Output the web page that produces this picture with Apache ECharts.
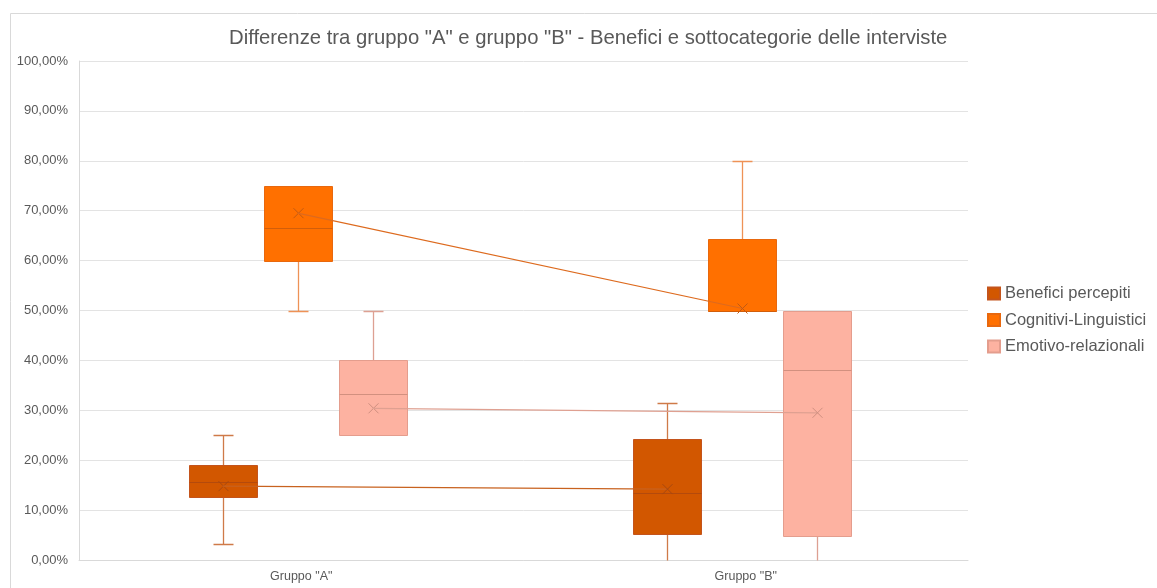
<!DOCTYPE html>
<html><head><meta charset="utf-8">
<script src="https://cdn.jsdelivr.net/npm/echarts@6/dist/echarts.min.js"></script>
<style>html,body{margin:0;padding:0;background:#fff}#c{width:1157px;height:588px}</style>
</head><body><div id="c"></div>
<script>
const titleText = 'Differenze tra gruppo "A" e gruppo "B" - Benefici e sottocategorie delle interviste';
const categories = ['Gruppo "A"', 'Gruppo "B"'];
const seriesNames = ['Benefici percepiti', 'Cognitivi-Linguistici', 'Emotivo-relazionali'];
// [min, Q1, median, Q3, max] per group
const beneficiBox = [[0.032, 0.126, 0.157, 0.19, 0.25], [0, 0.052, 0.134, 0.242, 0.314]];
const beneficiMean = [0.148, 0.142];
const cognitiviBox = [[0.50, 0.60, 0.665, 0.75, 0.75], [0.50, 0.50, 0.50, 0.643, 0.80]];
const cognitiviMean = [0.695, 0.504];
const emotivoBox = [[0.25, 0.25, 0.332, 0.40, 0.50], [0, 0.049, 0.381, 0.50, 0.50]];
const emotivoMean = [0.304, 0.295];
const yTickValues = [0, 0.1, 0.2, 0.3, 0.4, 0.5, 0.6, 0.7, 0.8, 0.9, 1.0];

const styles = [
  {fill: '#D25700', border: '#C4541C', whisker: '#CF7A48', median: '#B44A0C', mean: '#A8480F', line: '#C8621F'},
  {fill: '#FF7000', border: '#E8680E', whisker: '#EE9256', median: '#D25E0A', mean: '#C25A12', line: '#DD6A1E'},
  {fill: '#FDB2A1', border: '#E49D8D', whisker: '#DDA092', median: '#D2907F', mean: '#CF8F80', line: '#DFA091'}
];
const boxSets = [beneficiBox, cognitiviBox, emotivoBox];
const meanSets = [beneficiMean, cognitiviMean, emotivoMean];
const offsets = [-0.177, -0.008, 0.161];
const BOXW = 0.153, CAPW = 0.045;

function crisp(v) { return Math.round(v) + 0.5; }

function makeRender(k) {
  const boxes = boxSets[k], means = meanSets[k], st = styles[k], offF = offsets[k];
  return function (params, api) {
    const i = params.dataIndex;
    const band = api.size([1, 0])[0];
    const cxOf = j => api.coord([j, 0])[0] + offF * band;
    const Y = (j, v) => api.coord([j, v])[1];
    const cx = crisp(cxOf(i));
    const bw = BOXW * band, cw = CAPW * band;
    const b = boxes[i];
    const yMin = crisp(Y(i, b[0])), yQ1 = crisp(Y(i, b[1])), yMed = crisp(Y(i, b[2])),
          yQ3 = crisp(Y(i, b[3])), yMax = crisp(Y(i, b[4]));
    const base = Y(i, 0);
    const children = [];
    const L = (x1, y1, x2, y2, c, w) => ({type: 'line', shape: {x1, y1, x2, y2}, style: {stroke: c, lineWidth: w || 1}});
    if (yMax < yQ3) {
      children.push(L(cx, yMax, cx, yQ3, st.whisker, 1.3));
      children.push(L(cx - cw / 2, yMax, cx + cw / 2, yMax, st.whisker, 1.5));
    }
    if (yMin > yQ1) {
      children.push(L(cx, yQ1, cx, yMin, st.whisker, 1.3));
      if (Math.abs(Y(i, b[0]) - base) > 1) children.push(L(cx - cw / 2, yMin, cx + cw / 2, yMin, st.whisker, 1.5));
    }
    const x0 = Math.round(cx - bw / 2) + 0.5;
    children.push({type: 'rect', shape: {x: x0, y: yQ3, width: Math.round(bw), height: yQ1 - yQ3},
      style: {fill: st.fill, stroke: st.border, lineWidth: 1}});
    children.push(L(x0, yMed, x0 + Math.round(bw), yMed, st.median, 1));
    const ym = Y(i, means[i]);
    if (i > 0) {
      const px = cxOf(i - 1), py = Y(i - 1, means[i - 1]);
      children.push(L(px, py, cx, ym, st.line, 1.2));
    }
    const s = 5;
    children.push(L(cx - s, ym - s, cx + s, ym + s, st.mean, 1));
    children.push(L(cx - s, ym + s, cx + s, ym - s, st.mean, 1));
    return {type: 'group', children};
  };
}

const series = seriesNames.map((name, k) => ({
  name,
  type: 'custom',
  renderItem: makeRender(k),
  itemStyle: {color: styles[k].fill, borderColor: styles[k].border, borderWidth: 1},
  encode: {x: 0, y: [1, 2, 3, 4, 5]},
  data: boxSets[k].map((b, i) => [i].concat(b)),
  z: 2 + k
}));

const chart = echarts.init(document.getElementById('c'));
chart.setOption({
  animation: false,
  textStyle: {fontFamily: 'Liberation Sans, Arial, sans-serif'},
  graphic: [{type: 'rect', z: -10, shape: {x: 10.5, y: 13.5, width: 1300, height: 700},
    style: {fill: 'none', stroke: '#d9d9d9', lineWidth: 1}}],
  title: {text: titleText, left: 224, top: 23,
    textStyle: {fontSize: 20.3, fontWeight: 'normal', color: '#595959', fontFamily: 'Liberation Sans, Arial, sans-serif'}},
  legend: {
    orient: 'vertical', left: 982, top: 280, icon: 'rect', itemWidth: 12, itemHeight: 12, itemGap: 9.5,
    textStyle: {fontSize: 16.5, color: '#595959'},
    data: seriesNames
  },
  grid: {left: 79, right: 189, top: 61, bottom: 28, containLabel: false},
  xAxis: {
    type: 'category', data: categories, boundaryGap: true,
    axisLine: {lineStyle: {color: '#d9d9d9'}}, axisTick: {show: false},
    axisLabel: {fontSize: 12.5, color: '#595959', margin: 10}
  },
  yAxis: {
    type: 'value', min: yTickValues[0], max: yTickValues[yTickValues.length - 1], interval: 0.1,
    axisLine: {show: true, lineStyle: {color: '#d9d9d9'}},
    splitLine: {lineStyle: {color: '#e3e3e3'}},
    axisLabel: {fontSize: 13, color: '#595959', margin: 11,
      formatter: v => (v * 100).toFixed(2).replace('.', ',') + '%'}
  },
  series
});
</script></body></html>
